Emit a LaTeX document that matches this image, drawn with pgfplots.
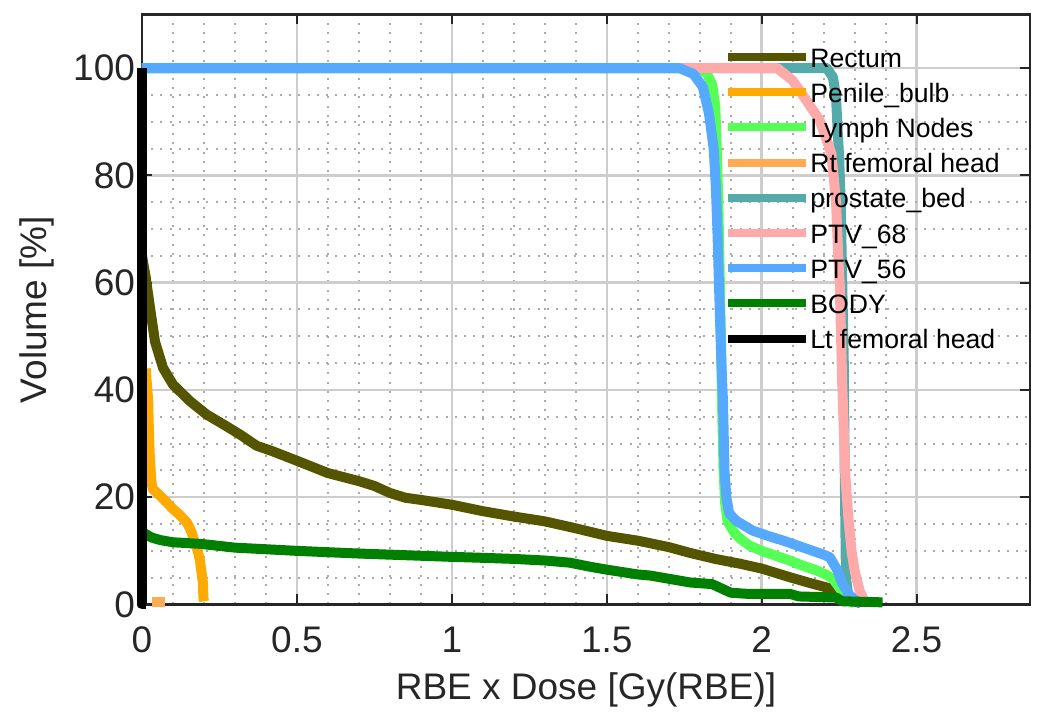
\documentclass[border=0pt]{standalone}
\usepackage{fontspec}
\setmainfont{Liberation Sans}
\usepackage{pgfplots}
\pgfplotsset{compat=1.18}
\definecolor{axgray}{HTML}{262626}
\definecolor{gridmajor}{HTML}{CDCDCD}
\definecolor{gridminor}{HTML}{ABABAB}
\definecolor{crectum}{RGB}{85,85,0}
\definecolor{cpenile}{RGB}{255,170,0}
\definecolor{clymph}{RGB}{85,255,85}
\definecolor{crtfem}{RGB}{255,170,85}
\definecolor{cprost}{RGB}{85,170,170}
\definecolor{cptvsixeight}{RGB}{255,170,170}
\definecolor{cptvfivesix}{RGB}{85,170,255}
\definecolor{cbody}{RGB}{0,128,0}
\begin{document}
\begin{tikzpicture}
\useasboundingbox (-71pt,-58.25pt) rectangle (448pt,302.25pt);
\begin{axis}[
  scale only axis, width=444pt, height=295pt,
  at={(0,0)}, anchor=south west,
  xmin=0, xmax=2.866, ymin=0, ymax=110,
  xtick={0,0.5,1,1.5,2,2.5}, ytick={0,20,40,60,80,100},
  minor x tick num=4, minor y tick num=3,
  grid=both,
  major grid style={color=gridmajor, line width=1.2pt},
  minor grid style={color=gridminor, line width=1pt, dash pattern=on 1pt off 3.6pt},
  tick align=inside, major tick length=5pt, minor tick length=0pt,
  every tick/.style={axgray, line width=1pt},
  axis line style={axgray, line width=1.3pt},
  ticklabel style={font=\fontsize{18.5}{21}\selectfont, text=axgray},
  xticklabel style={yshift=-7.5pt},
  /pgf/number format/assume math mode=true,
  xlabel={RBE x Dose [Gy(RBE)]}, ylabel={Volume [\%]},
  label style={font=\fontsize{18.5}{21}\selectfont, text=axgray},
  xlabel style={at={(axis description cs:0.5,-0.1449)}, anchor=center},
  ylabel style={at={(axis description cs:-0.1188,0.5)}, anchor=center},
  clip=false,
  every axis plot/.append style={line width=5pt, line join=round},
  legend style={draw=none, fill=none, at={(axis description cs:0.6554,0.9488)}, anchor=north west,
    font=\fontsize{13.3}{15}\selectfont, text=black, inner sep=0pt, row sep=5.6pt, column sep=0pt,
    nodes={inner sep=0pt, text height=11pt, text depth=1pt}},
  legend cell align=left,
  legend image code/.code={\draw[#1, line width=4pt] (0pt,0pt) -- (39pt,0pt);},
]
\addplot[color=crectum] coordinates {
(0,65) (0.012,61) (0.026,55.3) (0.042,49) (0.068,44.1) (0.1,41) (0.155,37.9) (0.209,35.4) (0.262,33.6) (0.316,31.7) (0.37,29.6) (0.42,28.6) (0.5,26.8) (0.6,24.5) (0.7,23) (0.75,22.1) (0.8,20.8) (0.85,19.9) (0.9,19.5) (1.0,18.6) (1.1,17.4) (1.2,16.4) (1.3,15.5) (1.4,14.2) (1.5,12.8) (1.6,11.9) (1.7,10.7) (1.77,9.6) (1.85,8.5) (1.93,7.6) (2.0,6.7) (2.09,5.1) (2.15,4.1) (2.22,3.0) (2.27,1.7) (2.3,0.6) (2.32,0.2)
};
\addlegendentry{Rectum}
\addplot[color=cpenile] coordinates {
(0.012,44) (0.015,41.6) (0.02,38) (0.022,33) (0.025,28) (0.03,23) (0.035,21.5) (0.045,21) (0.058,20.3) (0.08,19) (0.1,17.8) (0.12,16.8) (0.145,15.3) (0.16,13.5) (0.17,11.5) (0.18,10) (0.187,8.2) (0.192,6) (0.197,3.9) (0.198,1.3) (0.2,0.6)
};
\addlegendentry{Penile\_bulb}
\addplot[color=clymph] coordinates {
(0,100) (1.78,100) (1.82,99.3) (1.84,97) (1.85,93) (1.855,85) (1.86,75) (1.865,60) (1.87,45) (1.873,35) (1.877,25) (1.882,19) (1.89,15.5) (1.91,13.5) (1.93,12.3) (1.96,11) (2.0,10) (2.05,9) (2.09,8.2) (2.13,7.3) (2.18,6.3) (2.21,5.5) (2.23,4.8) (2.25,3.2) (2.27,1.4) (2.29,0.5) (2.3,0.2)
};
\addlegendentry{Lymph Nodes}
\addplot[color=crtfem] coordinates {
(0.032,0.4) (0.074,0.4)
};
\addlegendentry{Rt femoral head}
\addplot[color=cprost] coordinates {
(0,100) (2.21,100) (2.23,98.3) (2.24,94.6) (2.245,88.5) (2.25,83.4) (2.255,75) (2.26,60) (2.265,45) (2.268,25) (2.27,15) (2.272,5) (2.28,1.5) (2.3,0.3)
};
\addlegendentry{prostate\_bed}
\addplot[color=cptvsixeight] coordinates {
(0,100) (2.05,100) (2.1,97.7) (2.144,94) (2.187,90.3) (2.21,86.6) (2.225,84) (2.24,75) (2.247,65) (2.252,59.6) (2.26,41) (2.27,24) (2.28,16) (2.29,10) (2.3,6.3) (2.316,2.6) (2.33,0.8) (2.34,0.3)
};
\addlegendentry{PTV\_68}
\addplot[color=cptvfivesix] coordinates {
(0,100) (1.735,100) (1.78,98.9) (1.81,96.5) (1.83,91.5) (1.845,85) (1.852,78) (1.857,70) (1.862,60) (1.87,45) (1.875,38) (1.88,25) (1.886,20) (1.895,17) (1.918,15.6) (1.97,13.8) (2.02,12.8) (2.07,11.9) (2.12,10.9) (2.165,10) (2.2,9.3) (2.22,8.8) (2.245,6.3) (2.26,3.9) (2.28,2) (2.3,0.8) (2.32,0.2)
};
\addlegendentry{PTV\_56}
\addplot[color=cbody] coordinates {
(0,13.5) (0.01,13.2) (0.03,12.5) (0.06,12) (0.1,11.6) (0.19,11.3) (0.3,10.6) (0.5,10) (0.7,9.5) (0.99,8.9) (1.1,8.7) (1.2,8.5) (1.3,8.2) (1.38,7.8) (1.45,7) (1.5,6.5) (1.6,5.6) (1.64,5.4) (1.77,4.1) (1.84,3.8) (1.9,2.2) (1.95,2) (2.09,2) (2.12,1.5) (2.24,1.3) (2.26,0.6) (2.39,0.4)
};
\addlegendentry{BODY}
\addplot[color=black] coordinates {
(0,100) (0,0) (0.012,0)
};
\addlegendentry{Lt femoral head}
\end{axis}
\end{tikzpicture}
\end{document}
